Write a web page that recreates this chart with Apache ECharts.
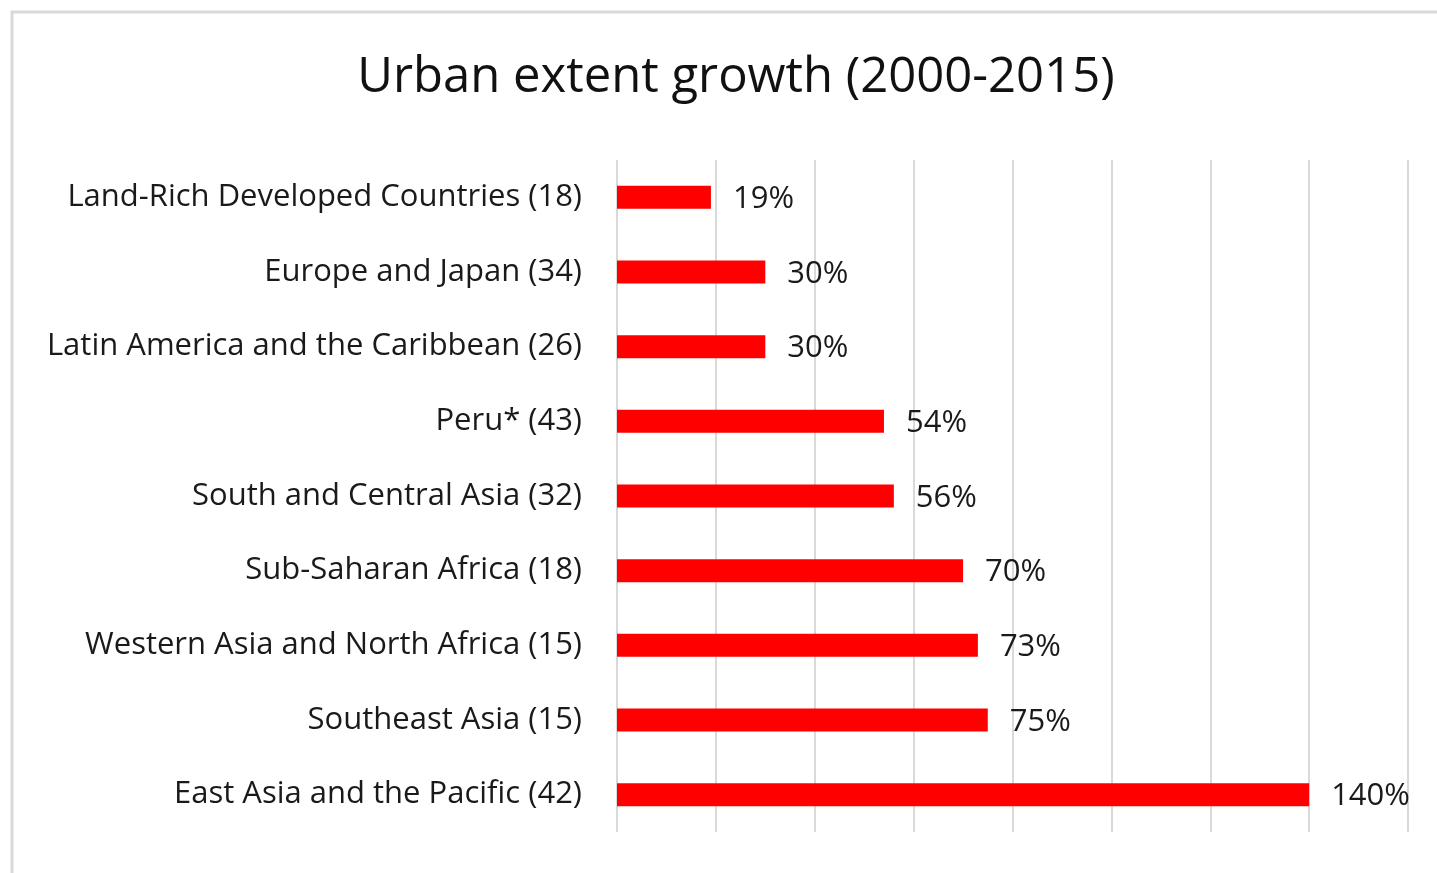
<!DOCTYPE html>
<html>
<head>
<meta charset="utf-8">
<script src="https://cdn.jsdelivr.net/npm/echarts@6/dist/echarts.min.js"></script>
<style>
  html, body { margin: 0; padding: 0; background: #fff; }
  #chart { width: 1437px; height: 873px; }
</style>
</head>
<body>
<div id="chart"></div>
<script>
var regions = ['Land-Rich Developed Countries (18)', 'Europe and Japan (34)', 'Latin America and the Caribbean (26)',
  'Peru* (43)', 'South and Central Asia (32)', 'Sub-Saharan Africa (18)',
  'Western Asia and North Africa (15)', 'Southeast Asia (15)', 'East Asia and the Pacific (42)'];
var growth = [19, 30, 30, 54, 56, 70, 73, 75, 140];

var chart = echarts.init(document.getElementById('chart'));
var font = '"Open Sans", sans-serif';

option = {
  backgroundColor: '#fff',
  title: {
    text: 'Urban extent growth (2000-2015)',
    left: 731, top: 49, textAlign: 'center',
    textStyle: { fontFamily: font, fontSize: 49, fontWeight: 'normal', color: '#111' }
  },
  graphic: [{
    type: 'rect',
    shape: { x: 12, y: 12, width: 1500, height: 1000 },
    style: { fill: 'none', stroke: '#d9d9d9', lineWidth: 3 },
    silent: true
  }],
  grid: { left: 617, right: 29, top: 160, bottom: 41 },
  xAxis: {
    type: 'value',
    min: 0, max: 160, interval: 20,
    axisLabel: { show: false },
    axisLine: { show: false },
    axisTick: { show: false },
    splitLine: { lineStyle: { color: '#d9d9d9', width: 2 } }
  },
  yAxis: {
    type: 'category',
    inverse: true,
    data: regions,
    axisLine: { show: false },
    axisTick: { show: false },
    axisLabel: { margin: 35, fontFamily: font, fontSize: 31, color: '#1a1a1a' }
  },
  series: [{
    type: 'bar',
    data: growth,
    barWidth: 23,
    itemStyle: { color: '#ff0000' },
    label: {
      show: true,
      position: 'right',
      distance: 22,
      offset: [0, 2],
      formatter: function (p) { return p.value + '%'; },
      fontFamily: font, fontSize: 31, color: '#1a1a1a'
    }
  }]
};
chart.setOption(option);
window.onresize = function () { chart.resize(); };
</script>
</body>
</html>
